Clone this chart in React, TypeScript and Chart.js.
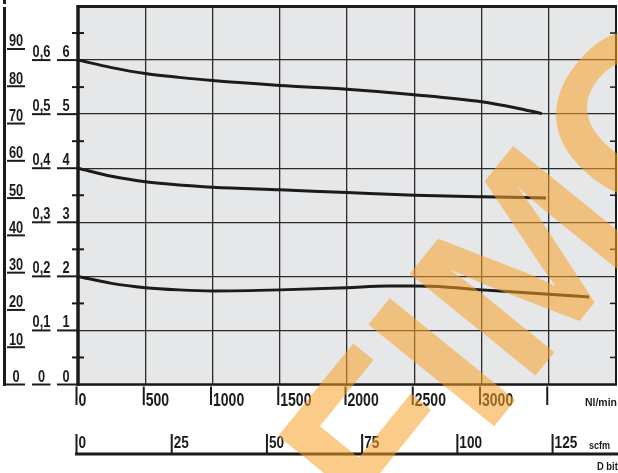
import React, { useEffect, useRef } from "react";
import { Chart, registerables } from "chart.js";

Chart.register(...registerables);

// ---- data ----
const flowLabels = [0, 500, 1000, 1500, 2000, 2500, 3000];
const flowBlankTicks = [3500];
const barLabels = [0, 1, 2, 3, 4, 5, 6];
const mpaLabels = ["0", "0,1", "0,2", "0,3", "0,4", "0,5", "0,6"];
const psiLabels = [0, 10, 20, 30, 40, 50, 60, 70, 80, 90];
const scfmLabels = [0, 25, 50, 75, 100, 125];

const curve6Flow = [0, 250, 500, 750, 1000, 1500, 2000, 2500, 3000, 3250, 3450];
const curve6Bar = [6.0, 5.86, 5.75, 5.68, 5.62, 5.53, 5.46, 5.36, 5.23, 5.12, 5.01];

const curve4Flow = [0, 250, 500, 750, 1000, 1500, 2000, 2500, 3000, 3480];
const curve4Bar = [4.0, 3.85, 3.75, 3.69, 3.65, 3.6, 3.55, 3.5, 3.47, 3.45];

const curve2Flow = [0, 250, 500, 750, 1000, 1500, 2000, 2300, 2500, 2750, 3000, 3250, 3500, 3800];
const curve2Bar = [2.0, 1.87, 1.79, 1.75, 1.73, 1.75, 1.79, 1.82, 1.82, 1.8, 1.75, 1.71, 1.67, 1.62];

const PSI_PER_BAR = 14.5038;
const NL_PER_SCFM = 28.3168;

const FONT = '"Liberation Sans", Arial, sans-serif';
const INK = "#1b1b1b";

function pts(xs: number[], ys: number[]) {
  return xs.map((x, i) => ({ x, y: ys[i] }));
}

function txt(ctx: CanvasRenderingContext2D, s: string, x: number, y: number, align: CanvasTextAlign, sx: number) {
  ctx.save();
  ctx.translate(x, y);
  ctx.scale(sx, 1);
  ctx.textAlign = align;
  ctx.fillText(s, 0, 0);
  ctx.restore();
}

const drawPlugin = {
  id: "customDraw",
  beforeDraw(chart: any) {
    const { ctx, chartArea: a } = chart;
    ctx.save();
    ctx.fillStyle = "#ffffff";
    ctx.fillRect(0, 0, chart.width, chart.height);
    ctx.fillStyle = "#e6e7e9";
    ctx.fillRect(a.left, a.top, a.right - a.left, a.bottom - a.top);
    ctx.restore();
  },
  afterDraw(chart: any) {
    const { ctx, chartArea: a } = chart;
    const xs = chart.scales.x;
    const ys = chart.scales.y;
    const X = (v: number) => xs.getPixelForValue(v);
    const Y = (v: number) => ys.getPixelForValue(v);
    const line = (x1: number, y1: number, x2: number, y2: number, w: number, c = INK) => {
      ctx.beginPath();
      ctx.strokeStyle = c;
      ctx.lineWidth = w;
      ctx.moveTo(x1, y1);
      ctx.lineTo(x2, y2);
      ctx.stroke();
    };
    ctx.save();
    ctx.lineCap = "butt";

    // frame
    line(a.left - 1, a.top + 0.5, a.right + 1, a.top + 0.5, 3);
    line(a.left, a.top - 1, a.left, a.bottom + 1.5, 3.5);
    line(a.right, a.top, a.right, a.bottom, 2);
    line(a.left, a.bottom, a.right + 1, a.bottom, 2.5);

    // half ticks
    for (let v = 0.5; v < 7; v += 1) {
      line(a.left - 6, Y(v), a.left + 6, Y(v), 2);
      line(a.right - 6, Y(v), a.right, Y(v), 1.5);
    }

    // left outer line
    line(4.5, 0, 4.5, 4, 3);
    line(4.5, 7, 4.5, Y(0) + 1.5, 3);

    ctx.fillStyle = INK;
    ctx.textBaseline = "alphabetic";

    // psi column
    ctx.font = `bold 16px ${FONT}`;
    psiLabels.forEach((p) => {
      const y = Y(p / PSI_PER_BAR);
      line(p === 0 ? 3 : 7, y, 25, y, 2);
      txt(ctx, String(p), 16, y - 2.5, "center", 0.8);
    });

    // MPa column
    barLabels.forEach((b, i) => {
      const y = Y(b);
      line(32, y, 50.5, y, 2);
      txt(ctx, mpaLabels[i], 41.5, y - 3, "center", 0.8);
    });

    // bar column
    barLabels.forEach((b) => {
      const y = Y(b);
      line(57, y, a.left, y, 2);
      txt(ctx, String(b), 66, y - 3, "center", 0.8);
    });

    // Nl/min axis
    ctx.font = `bold 18px ${FONT}`;
    [...flowLabels, ...flowBlankTicks].forEach((f) => {
      const x = X(f) - 1.5;
      line(x, a.bottom + 2, x, 405, 2);
      if (flowLabels.includes(f)) txt(ctx, String(f), x + 2, 406, "left", 0.78);
    });
    ctx.font = `bold 11px ${FONT}`;
    txt(ctx, "Nl/min", 585, 406, "left", 0.95);

    // scfm axis
    line(75, 454, 618, 454, 3);
    ctx.font = `bold 17px ${FONT}`;
    scfmLabels.forEach((s) => {
      const x = X(s * NL_PER_SCFM) - 1.5;
      line(x, 434, x, 454, 2);
      txt(ctx, String(s), x + 2, 447.5, "left", 0.8);
    });
    ctx.font = `bold 10px ${FONT}`;
    txt(ctx, "scfm", 589, 449, "left", 0.9);
    ctx.font = `bold 11px ${FONT}`;
    txt(ctx, "D bit", 597, 470, "left", 0.85);

    // watermark
    ctx.save();
    ctx.translate(394, 550);
    ctx.rotate((-51 * Math.PI) / 180);
    ctx.font = `bold 235px ${FONT}`;
    ctx.fillStyle = "rgba(247,160,40,0.55)";
    ctx.textAlign = "left";
    ctx.fillText("FIMC", 0, 0);
    ctx.restore();

    ctx.restore();
  },
};

export default function App() {
  const ref = useRef<HTMLCanvasElement | null>(null);
  useEffect(() => {
    document.body.style.margin = "0";
    const canvas = ref.current;
    if (!canvas) return;
    const lineStyle = {
      borderColor: INK,
      borderWidth: 3,
      pointRadius: 0,
      fill: false,
      cubicInterpolationMode: "monotone" as const,
    };
    const chart = new Chart(canvas, {
      type: "line",
      data: {
        datasets: [
          { label: "6 bar", data: pts(curve6Flow, curve6Bar), ...lineStyle },
          { label: "4 bar", data: pts(curve4Flow, curve4Bar), ...lineStyle },
          { label: "2 bar", data: pts(curve2Flow, curve2Bar), ...lineStyle },
        ],
      },
      options: {
        animation: false,
        responsive: false,
        devicePixelRatio: 1,
        layout: { padding: { left: 78, right: 2, top: 6, bottom: 88.5 } },
        plugins: { legend: { display: false }, tooltip: { enabled: false } },
        scales: {
          x: {
            type: "linear",
            min: 0,
            max: 4000,
            ticks: { display: false, stepSize: 500 },
            grid: { color: "#2b2b2b", lineWidth: 1.3, drawTicks: false },
            border: { display: false },
          },
          y: {
            type: "linear",
            min: 0,
            max: 7,
            ticks: { display: false, stepSize: 1 },
            grid: { color: "#2b2b2b", lineWidth: 1.3, drawTicks: false },
            border: { display: false },
          },
        },
      },
      plugins: [drawPlugin],
    });
    return () => chart.destroy();
  }, []);
  return (
    <div style={{ width: 618, height: 473 }}>
      <canvas ref={ref} width={618} height={473} style={{ display: "block", width: 618, height: 473 }} />
    </div>
  );
}
